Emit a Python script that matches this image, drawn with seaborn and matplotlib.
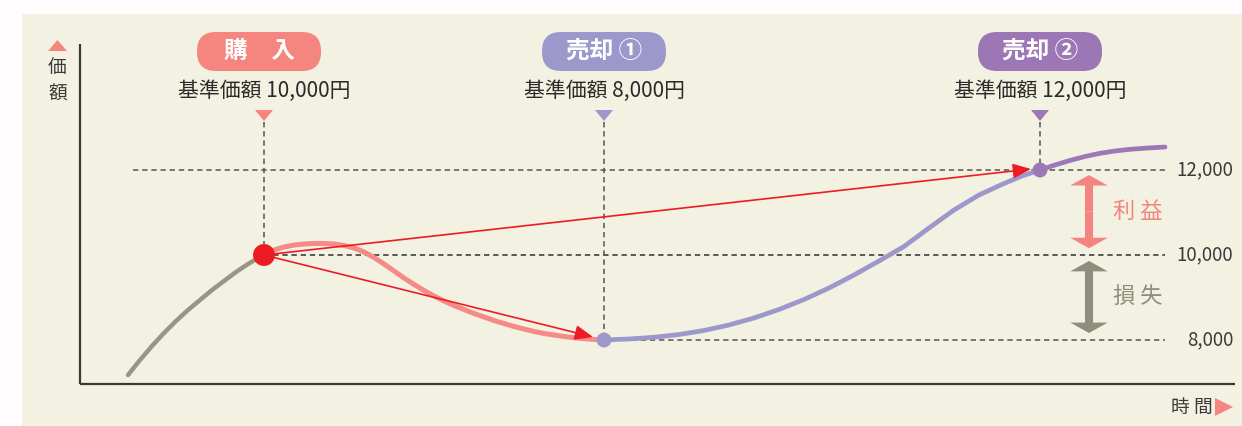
import numpy as np
import pandas as pd
import seaborn as sns
import matplotlib.pyplot as plt
from matplotlib.patches import FancyBboxPatch, Rectangle, Polygon

# データ（時間軸は画像上の横位置、価格は基準価額）
gray_t = [128, 140, 152, 164, 176, 188, 200, 212, 224, 236, 248, 258, 264]
gray_p = [7176, 7529, 7859, 8165, 8447, 8706, 8941, 9176, 9388, 9600, 9788, 9929, 10000]

pink_t = [264, 274, 284, 294, 304, 314, 324, 334, 344, 354, 364, 374, 384, 394, 404, 414, 424,
          434, 444, 454, 464, 474, 484, 494, 504, 514, 524, 534, 544, 554, 564, 574, 584, 594, 604]
pink_p = [10000, 10118, 10188, 10235, 10259, 10271, 10271, 10259, 10224, 10165, 10071, 9941, 9788,
          9624, 9459, 9306, 9165, 9035, 8918, 8812, 8718, 8624, 8541, 8459, 8388, 8318, 8259, 8200,
          8153, 8118, 8082, 8054, 8031, 8014, 8000]

blue_t = [604, 629, 654, 679, 704, 729, 754, 779, 804, 829, 854, 879, 904, 929, 954, 979, 1004, 1022, 1040]
blue_p = [8000, 8024, 8064, 8129, 8224, 8353, 8518, 8718, 8953, 9224, 9529, 9859, 10200, 10635,
          11059, 11412, 11682, 11859, 12000]

purple_t = [1040, 1055, 1070, 1085, 1100, 1115, 1130, 1148, 1165]
purple_p = [12000, 12118, 12224, 12318, 12393, 12447, 12487, 12518, 12541]

event_t = [264, 604, 1040]
event_p = [10000, 8000, 12000]
event_names = ['購　入', '売却 ①', '売却 ②']
event_notes = ['基準価額 10,000円', '基準価額 8,000円', '基準価額 12,000円']
event_colors = ['#f4857f', '#9d98cb', '#9c76b5']

price_ticks = [12000, 10000, 8000]
price_labels = ['12,000', '10,000', '8,000']

sns.set_theme(style='white')
plt.rcParams['font.family'] = ['Noto Sans CJK JP', 'DejaVu Sans']

W, H = 1242, 426
fig = plt.figure(figsize=(W / 100, H / 100), dpi=100, facecolor='#fefcfc')
fig.patches.append(Rectangle((22 / W, 0), 1, (H - 14) / H, transform=fig.transFigure,
                             facecolor='#f3f1e1', edgecolor='none', zorder=-5))

# 価格の軸（1px = 2000/85 円）
def price(py):
    return 10000 + (255 - py) * 2000 / 85

ax = fig.add_axes([0, 0, 1, 1], zorder=2)
ax.set_xlim(0, W)
ax.set_ylim(price(H), price(0))
ax.set_facecolor('none')
ax.axis('off')

# レイアウト用の軸（ピクセル座標）
lay = fig.add_axes([0, 0, 1, 1], zorder=3)
lay.set_xlim(0, W)
lay.set_ylim(H, 0)
lay.set_facecolor('none')
lay.axis('off')

# 軸線
ax_col = '#3b3936'
lay.plot([80, 80], [44, 384], color=ax_col, lw=1.6, solid_capstyle='butt')
lay.plot([80, 1235], [384, 384], color=ax_col, lw=1.6, solid_capstyle='butt')

# 点線
dash = (0, (3.5, 2.5))
ax.plot([133, 1165], [12000, 12000], color='#555550', lw=1.1, ls=dash)
ax.plot([264, 1165], [10000, 10000], color='#2f2f2f', lw=1.1, ls=dash)
ax.plot([604, 1165], [8000, 8000], color='#555550', lw=1.1, ls=dash)
for t, p in zip(event_t, event_p):
    ax.plot([t, t], [price(122), p], color='#555550', lw=1.1, ls=dash)

# 価格の推移
sns.lineplot(x=gray_t, y=gray_p, ax=ax, color='#979685', lw=3.2, sort=False, solid_capstyle='round')
sns.lineplot(x=pink_t, y=pink_p, ax=ax, color='#f58a86', lw=3.6, sort=False, solid_capstyle='round')
sns.lineplot(x=blue_t, y=blue_p, ax=ax, color='#9c98cb', lw=3.4, sort=False, solid_capstyle='round')
sns.lineplot(x=purple_t, y=purple_p, ax=ax, color='#9b78b6', lw=3.4, sort=False, solid_capstyle='round')

# 赤い矢印
red = '#ed1c24'
for tip in [(1031, price(169)), (593, price(337))]:
    ax.annotate('', xy=tip, xytext=(event_t[0], event_p[0]),
                arrowprops=dict(arrowstyle='-|>,head_length=1.1,head_width=0.45', color=red,
                                lw=1.2, shrinkA=0, shrinkB=0, mutation_scale=10), zorder=4)

sns.scatterplot(x=event_t[:1], y=event_p[:1], ax=ax, color=red, s=250, edgecolor='none', zorder=5)
sns.scatterplot(x=event_t[1:], y=event_p[1:], ax=ax, hue=event_names[1:],
                palette=['#9c98cb', '#9b78b6'], s=115, edgecolor='none', legend=False, zorder=5)

# 上部のラベル
for t, name, note, col in zip(event_t, event_names, event_notes, event_colors):
    cx = t - 5 if t == event_t[0] else t
    lay.add_patch(FancyBboxPatch((cx - 62 + 19, 32 + 19), 124 - 38, 1, boxstyle='round,pad=19',
                                 facecolor=col, edgecolor='none'))
    lay.text(cx, 51, name, ha='center', va='center', color='white', fontsize=17, fontweight='bold')
    lay.text(t, 91, note, ha='center', va='center', color='#2b2b2b', fontsize=15)
    lay.add_patch(Polygon([[t - 9, 110], [t + 9, 110], [t, 121]], closed=True,
                          facecolor=col, edgecolor='none'))

# 右側の価格ラベル
for p, lab in zip(price_ticks, price_labels):
    ax.text(1233, p, lab, ha='right', va='center', color='#3a3a3a', fontsize=13.5)

# 利益・損失の両矢印
for (top, bot), col, lab in [((11880, 10160), '#f4847f', '利 益'), ((9860, 8165), '#8f8d7b', '損 失')]:
    mid = (top + bot) / 2
    for end in (top, bot):
        ax.annotate('', xy=(1089, end), xytext=(1089, mid),
                    arrowprops=dict(arrowstyle='simple,head_length=0.75,head_width=2.7,tail_width=0.58',
                                    color=col, lw=0, shrinkA=0, shrinkB=0, mutation_scale=10))
    ax.text(1138, mid, lab, ha='center', va='center', color=col, fontsize=16)

# 軸のタイトル
lay.text(1192, 407, '時 間', ha='center', va='center', color='#3a3a3a', fontsize=13.5)
lay.add_patch(Polygon([[1215, 398], [1215, 416], [1233, 407]], closed=True,
                      facecolor='#f4857f', edgecolor='none'))
lay.add_patch(Polygon([[48, 51], [67, 51], [57.5, 40]], closed=True,
                      facecolor='#f4857f', edgecolor='none'))
lay.text(57.5, 67, '価', ha='center', va='center', color='#3a3a3a', fontsize=13.5)
lay.text(57.5, 94, '額', ha='center', va='center', color='#3a3a3a', fontsize=13.5)

fig.savefig('out.png', dpi=100, facecolor=fig.get_facecolor())
